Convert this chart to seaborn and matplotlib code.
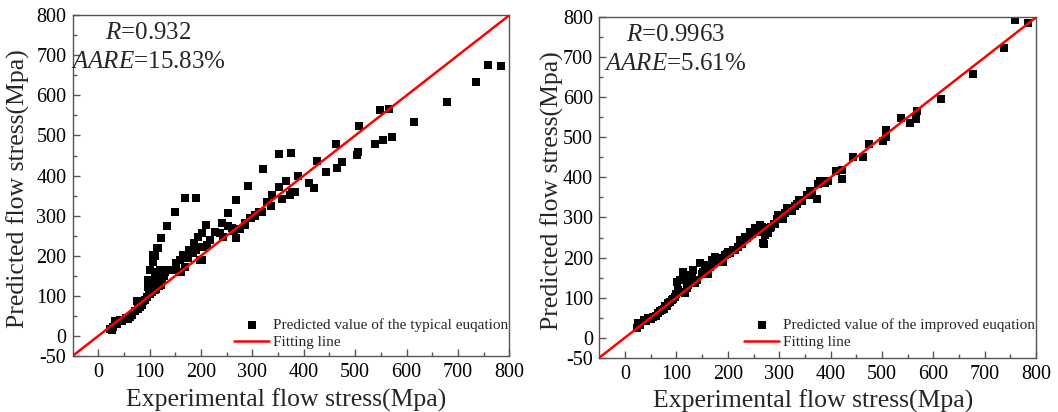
import matplotlib
matplotlib.use("Agg")
import numpy as np
import pandas as pd
import seaborn as sns
import matplotlib.pyplot as plt
from matplotlib.ticker import FixedLocator

# ---------------- data ----------------
typical_exp = [23, 27, 29, 33, 36, 42, 47, 53, 58, 62, 66, 71, 75, 78, 81, 85, 88, 91, 94,
               96, 97, 98, 100, 101, 101, 103, 104, 106, 107, 107, 107, 110, 110, 110, 112, 113,
               115, 116, 118, 120, 120, 123, 123, 125, 128, 130, 133, 134, 136, 149, 151, 151,
               159, 161, 165, 169, 169, 172, 175, 177, 184, 187, 191, 191, 195, 198, 198, 201,
               201, 204, 210, 211, 217, 227, 237, 240, 243, 252, 253, 260, 265, 269, 269, 275,
               285, 285, 292, 295, 298, 305, 305, 313, 318, 320, 328, 337, 339, 352, 352, 357,
               365, 373, 375, 378, 383, 389, 411, 420, 425, 443, 462, 464, 474, 503, 506, 507,
               538, 548, 555, 566, 571, 614, 678, 736, 759, 783]
typical_pred = [18, 15, 23, 36, 30, 40, 38, 44, 42, 48, 52, 61, 86, 66, 73, 78, 86, 90, 98,
                123, 140, 118, 105, 123, 165, 125, 110, 120, 131, 185, 202, 115, 160, 200, 118, 140,
                220, 219, 125, 135, 165, 244, 127, 145, 150, 160, 165, 274, 165, 308, 181, 165,
                190, 160, 202, 173, 343, 198, 194, 214, 206, 231, 214, 345, 246, 190, 223, 256,
                190, 222, 277, 227, 239, 260, 256, 281, 248, 307, 273, 270, 262, 244, 339, 267,
                281, 277, 375, 293, 293, 302, 300, 310, 310, 416, 335, 324, 352, 371, 454, 342,
                387, 352, 456, 359, 360, 399, 382, 370, 436, 409, 479, 418, 435, 451, 460, 524,
                480, 563, 489, 566, 497, 534, 584, 633, 677, 674]

improved_exp = [23, 26, 30, 36, 40, 45, 50, 55, 60, 65, 68, 71, 75, 78, 81, 84, 88, 91, 94,
                97, 100, 101, 104, 107, 110, 113, 115, 117, 120, 123, 123, 127, 130, 133, 136, 140,
                146, 150, 152, 155, 159, 162, 165, 169, 172, 175, 178, 182, 185, 188, 191, 195,
                198, 201, 205, 210, 214, 220, 224, 228, 233, 238, 243, 248, 253, 258, 263, 266,
                269, 270, 272, 278, 282, 285, 290, 292, 295, 298, 302, 305, 308, 312, 315, 320,
                324, 330, 334, 339, 345, 354, 359, 363, 374, 375, 380, 389, 395, 411, 422, 422,
                443, 464, 474, 503, 507, 508, 538, 554, 566, 569, 614, 678, 737, 759, 785]
improved_pred = [23, 36, 32, 44, 42, 48, 47, 52, 55, 61, 66, 69, 72, 78, 80, 86, 90, 94, 97,
                 102, 108, 140, 120, 144, 115, 165, 150, 111, 125, 157, 132, 140, 148, 169, 136, 145,
                 186, 160, 165, 172, 181, 160, 177, 194, 185, 202, 190, 195, 198, 200, 190, 206,
                 210, 215, 212, 218, 219, 227, 244, 235, 252, 248, 265, 258, 273, 265, 281, 275,
                 236, 234, 256, 262, 273, 277, 283, 283, 297, 306, 300, 306, 296, 310, 323, 318,
                 315, 328, 334, 344, 340, 357, 367, 355, 346, 383, 390, 386, 392, 417, 396, 419,
                 452, 452, 484, 490, 500, 519, 548, 535, 546, 567, 596, 658, 723, 793, 785]

fit_x = [-50, 800]

x_major = [0, 100, 200, 300, 400, 500, 600, 700, 800]
y_major = [-50, 0, 100, 200, 300, 400, 500, 600, 700, 800]
minor_ticks = [50, 150, 250, 350, 450, 550, 650, 750]

# ---------------- style ----------------
sns.set_style("ticks")
plt.rcParams["font.family"] = ["Liberation Serif", "DejaVu Serif"]
plt.rcParams["mathtext.fontset"] = "custom"
plt.rcParams["mathtext.rm"] = "Liberation Serif"
plt.rcParams["mathtext.it"] = "Liberation Serif:italic"
plt.rcParams["axes.unicode_minus"] = False

fig = plt.figure(figsize=(10.58, 4.12), dpi=100)
ax1 = fig.add_axes([0.0686, 0.136, 0.4128, 0.827])
ax2 = fig.add_axes([0.5665, 0.132, 0.4128, 0.826])

spine_col = "#555555"


def panel(ax, xs, ys, label, r_txt, aare_txt, leg_anchor, ylab_x):
    df = pd.DataFrame({"exp": xs, "pred": ys})
    sns.scatterplot(data=df, x="exp", y="pred", marker="s", s=26, color="black",
                    edgecolor="black", linewidth=0, ax=ax, label=label, zorder=2)
    line_df = pd.DataFrame({"x": fit_x, "y": fit_x})
    sns.lineplot(data=line_df, x="x", y="y", color="red", linewidth=1.8, ax=ax,
                 label="Fitting line", zorder=3)
    ax.set_xlim(-50, 800)
    ax.set_ylim(-50, 800)
    ax.xaxis.set_major_locator(FixedLocator(x_major))
    ax.yaxis.set_major_locator(FixedLocator(y_major))
    ax.xaxis.set_minor_locator(FixedLocator(minor_ticks))
    ax.yaxis.set_minor_locator(FixedLocator(minor_ticks))
    ax.tick_params(which="major", direction="in", length=5, width=1, color=spine_col,
                   labelsize=14.5, labelcolor="black")
    ax.tick_params(axis="y", which="major", pad=4.5)
    ax.tick_params(axis="x", which="major", pad=5)
    ax.tick_params(which="minor", direction="in", length=3, width=1, color=spine_col)
    for sp in ax.spines.values():
        sp.set_color(spine_col)
        sp.set_linewidth(1.0)
        sp.set_visible(True)
    ax.set_xlabel("Experimental flow stress(Mpa)", fontsize=18.5)
    ax.set_ylabel("Predicted flow stress(Mpa)", fontsize=18.5)
    ax.xaxis.set_label_coords(0.49, -0.095)
    ax.yaxis.set_label_coords(ylab_x, 0.49)
    ax.text(0.174, 0.948, r"$\mathit{R}$=" + r_txt, transform=ax.transAxes,
            ha="center", va="center", fontsize=18)
    ax.text(0.174, 0.862, r"$\mathit{AARE}$=" + aare_txt, transform=ax.transAxes,
            ha="center", va="center", fontsize=18)
    leg = ax.legend(loc="lower right", bbox_to_anchor=leg_anchor, frameon=False,
                    fontsize=11, handlelength=2.3, handletextpad=0.25,
                    labelspacing=0.25, borderpad=0, borderaxespad=0,
                    scatterpoints=1, markerscale=1.0)
    return leg


panel(ax1, typical_exp, typical_pred, "Predicted value of the typical euqation",
      "0.932", "15.83%", (0.998, 0.02), -0.0975)
panel(ax2, improved_exp, improved_pred, "Predicted value of the improved euqation",
      "0.9963", "5.61%", (0.998, 0.025), -0.081)

fig.savefig("out.png", dpi=100)
